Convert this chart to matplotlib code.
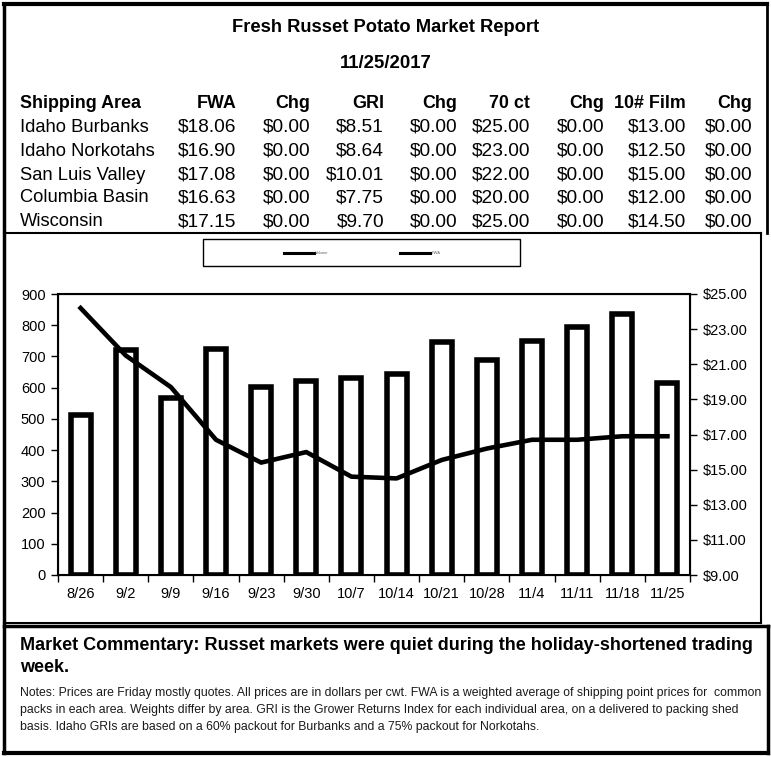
import numpy as np
import matplotlib
matplotlib.use("Agg")
import matplotlib.pyplot as plt
from matplotlib.lines import Line2D
from matplotlib.patches import Rectangle

plt.rcParams['font.family'] = ['Liberation Sans', 'DejaVu Sans']

W, H = 771, 757

# table data
areas = ["Idaho Burbanks", "Idaho Norkotahs", "San Luis Valley", "Columbia Basin", "Wisconsin"]
headers = ["Shipping Area", "FWA", "Chg", "GRI", "Chg", "70 ct", "Chg", "10# Film", "Chg"]
fwa = ["$18.06", "$16.90", "$17.08", "$16.63", "$17.15"]
fwa_chg = ["$0.00"] * 5
gri = ["$8.51", "$8.64", "$10.01", "$7.75", "$9.70"]
gri_chg = ["$0.00"] * 5
ct70 = ["$25.00", "$23.00", "$22.00", "$20.00", "$25.00"]
ct70_chg = ["$0.00"] * 5
film10 = ["$13.00", "$12.50", "$15.00", "$12.00", "$14.50"]
film10_chg = ["$0.00"] * 5

# chart data
weeks = ["8/26", "9/2", "9/9", "9/16", "9/23", "9/30", "10/7", "10/14",
         "10/21", "10/28", "11/4", "11/11", "11/18", "11/25"]
volume = [512, 720, 567, 725, 603, 620, 630, 645, 745, 690, 750, 795, 837, 615]
price = [24.2, 21.5, 19.7, 16.7, 15.4, 16.0, 14.6, 14.5, 15.55, 16.2, 16.7, 16.7, 16.9, 16.9]

commentary = ["Market Commentary: Russet markets were quiet during the holiday-shortened trading",
              "week."]
notes = ["Notes: Prices are Friday mostly quotes. All prices are in dollars per cwt. FWA is a weighted average of shipping point prices for  common",
         "packs in each area. Weights differ by area. GRI is the Grower Returns Index for each individual area, on a delivered to packing shed",
         "basis. Idaho GRIs are based on a 60% packout for Burbanks and a 75% packout for Norkotahs."]


def fx(x):
    return x / W


def fy(y):
    return 1 - y / H


fig = plt.figure(figsize=(W / 100, H / 100), dpi=100)


def hline(x0, x1, y, lw):
    fig.add_artist(Line2D([fx(x0), fx(x1)], [fy(y), fy(y)], color='black', lw=lw,
                          transform=fig.transFigure, solid_capstyle='projecting'))


def vline(x, y0, y1, lw):
    fig.add_artist(Line2D([fx(x), fx(x)], [fy(y0), fy(y1)], color='black', lw=lw,
                          transform=fig.transFigure, solid_capstyle='projecting'))


# frames
hline(4, 767, 4, 3)
vline(4, 4, 753, 2.5)
vline(767, 4, 233, 2)
hline(4, 761, 233, 1.5)
vline(761, 233, 623, 1.5)
hline(4, 761, 623, 1.5)
hline(4, 768, 626, 2.5)
vline(768, 626, 753, 2.5)
hline(4, 768, 753, 3)

# title
fig.text(fx(386), fy(28), "Fresh Russet Potato Market Report", ha='center', va='center',
         fontsize=13.2, fontweight='bold')
fig.text(fx(386), fy(64), "11/25/2017", ha='center', va='center', fontsize=13.4, fontweight='bold')

# table
col_right = [None, 236, 310, 384, 457, 530, 604, 686, 752]
row_y = [127, 151, 175, 198, 222]
cols = [areas, fwa, fwa_chg, gri, gri_chg, ct70, ct70_chg, film10, film10_chg]
for j, h in enumerate(headers):
    if j == 0:
        fig.text(fx(20), fy(103), h, ha='left', va='center', fontsize=12.9, fontweight='bold')
    else:
        fig.text(fx(col_right[j]), fy(103), h, ha='right', va='center', fontsize=12.9, fontweight='bold')
for j, col in enumerate(cols):
    for i, val in enumerate(col):
        if j == 0:
            fig.text(fx(20), fy(row_y[i]), val, ha='left', va='center', fontsize=13.2)
        else:
            fig.text(fx(col_right[j]), fy(row_y[i]), val, ha='right', va='center', fontsize=13.8)

# chart
ax = fig.add_axes([fx(58), fy(575), fx(690) - fx(58), fy(294) - fy(575)])
x = np.arange(len(weeks))
ax.bar(x, volume, width=0.44, color='white', edgecolor='black', linewidth=4, zorder=2)
ax.set_xlim(-0.5, len(weeks) - 0.5)
ax.set_ylim(0, 900)
ax.set_yticks(np.arange(0, 901, 100))
ax.set_xticks(x)
ax.set_xticklabels(weeks)
ax.set_xticks(np.arange(-0.5, len(weeks), 1), minor=True)
ax.tick_params(axis='x', which='major', length=0, pad=9, labelsize=10.5)
ax.tick_params(axis='x', which='minor', length=5, width=1, direction='out')
ax.tick_params(axis='y', length=5, width=1, direction='out', labelsize=10.5, pad=4)
for s in ax.spines.values():
    s.set_linewidth(1.5)

ax2 = ax.twinx()
ax2.plot(x, price, color='black', lw=3.3, zorder=3, solid_joinstyle='round')
ax2.set_ylim(9, 25)
ax2.set_yticks(np.arange(9, 26, 2))
ax2.set_yticklabels([f"${v:.2f}" for v in np.arange(9, 26, 2)])
ax2.tick_params(axis='y', length=5, width=1, direction='out', labelsize=10.5, pad=4)

# legend box and entries
fig.add_artist(Rectangle((fx(203), fy(266)), fx(520) - fx(203), fy(239) - fy(266),
                         transform=fig.transFigure, fill=False, edgecolor='black', lw=1.0))
handles = [Line2D([], [], color='black', lw=2.2), Line2D([], [], color='black', lw=2.2)]
fig.legend(handles, ["Volume", "FWA"], loc='center', ncol=2,
           bbox_to_anchor=(fx(362), fy(253)), frameon=False,
           fontsize=3, handlelength=7.2, handletextpad=0.4, columnspacing=17,
           labelcolor='0.4')

# commentary and notes
for i, line in enumerate(commentary):
    fig.text(fx(20), fy(645 + 23 * i), line, ha='left', va='center', fontsize=13.0,
             fontweight='bold')
for i, line in enumerate(notes):
    fig.text(fx(20), fy(693 + 17 * i), line, ha='left', va='center', fontsize=8.8,
             color='0.1')

fig.savefig("out.png", dpi=100)
